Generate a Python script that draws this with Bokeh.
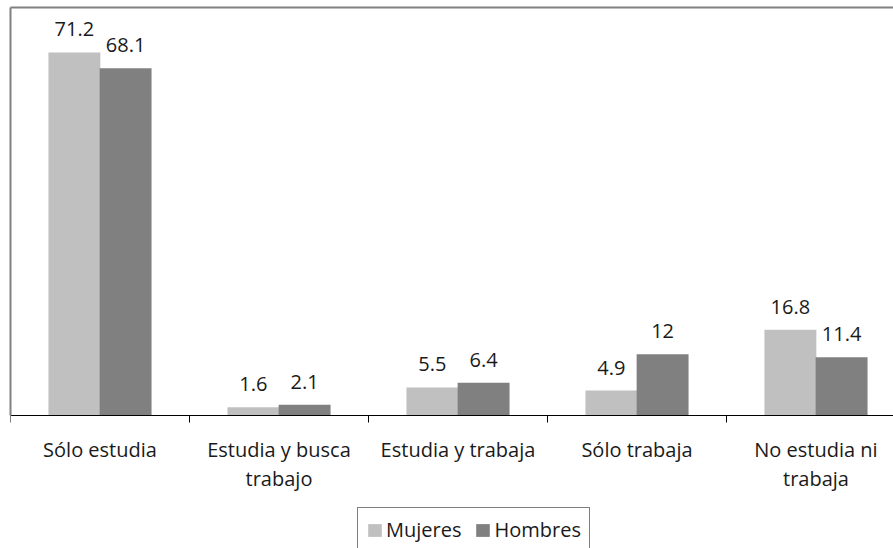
import numpy as np
from bokeh.plotting import figure
from bokeh.models import (ColumnDataSource, FixedTicker, LinearAxis, Legend,
                          LegendItem, Range1d)
from bokeh.transform import dodge
from bokeh.core.properties import value
from bokeh.embed import file_html
from bokeh.resources import INLINE

# Activity of young people by sex (%)
categories = ["Sólo estudia", "Estudia y busca\ntrabajo", "Estudia y trabaja",
              "Sólo trabaja", "No estudia ni\ntrabaja"]
mujeres = [71.2, 1.6, 5.5, 4.9, 16.8]
hombres = [68.1, 2.1, 6.4, 12, 11.4]
series_names = ["Mujeres", "Hombres"]

FONT = "Open Sans"
TEXT = "#1a1a1a"
C_MUJ = "#c0c0c0"
C_HOM = "#808080"

centers = [i + 0.5 for i in range(len(categories))]
bounds = [float(i) for i in range(len(categories))]

src = ColumnDataSource(dict(
    x=centers,
    muj=mujeres,
    hom=hombres,
    muj_lbl=[f"{v:g}" for v in mujeres],
    hom_lbl=[f"{v:g}" for v in hombres],
))

W, H = 893, 548
Y_TOP = 80
# the frame reaches the bottom of the page so the legend below the
# category labels is not clipped; the value axis starts at 0
y_bottom = -Y_TOP * 133 / 408
p = figure(width=W, height=H, output_backend="svg", toolbar_location=None,
           x_range=Range1d(0, 883 / 179), y_range=Range1d(y_bottom, Y_TOP),
           min_border_left=10, min_border_right=0, min_border_top=7,
           min_border_bottom=0, outline_line_color=None,
           background_fill_color="white", border_fill_color="white")
p.grid.visible = False

bw = 0.29
off = 0.143
r_m = p.vbar(x=dodge("x", -off, range=p.x_range), top="muj", width=bw,
             source=src, fill_color=C_MUJ, line_color=None)
r_h = p.vbar(x=dodge("x", off, range=p.x_range), top="hom", width=bw,
             source=src, fill_color=C_HOM, line_color=None)

for col, lbl, o in (("muj", "muj_lbl", -off), ("hom", "hom_lbl", off)):
    p.text(x=dodge("x", o, range=p.x_range), y=col, text=lbl, source=src,
           text_align="center", text_baseline="alphabetic", y_offset=-23,
           text_font=value(FONT), text_font_size="20px", text_color=TEXT)

# category axis at zero: labels at the centres, ticks at the boundaries
xa = p.xaxis[0]
xa.fixed_location = 0
xa.ticker = FixedTicker(ticks=centers, minor_ticks=bounds)
xa.major_label_overrides = {c: n for c, n in zip(centers, categories)}
xa.major_tick_out = 0
xa.major_tick_in = 0
xa.minor_tick_out = 7
xa.minor_tick_in = 0
xa.minor_tick_line_color = "black"
xa.axis_line_color = "black"
xa.major_label_standoff = 13
xa.major_label_text_font = FONT
xa.major_label_text_font_size = "20px"
xa.major_label_text_color = TEXT
xa.major_label_text_line_height = 1.1

# plain left and top border lines, no ticks or labels
ya = p.yaxis[0]
ya.bounds = (0, Y_TOP)
ya.ticker = FixedTicker(ticks=[], minor_ticks=[])
ya.major_tick_out = 0
ya.major_label_standoff = 0
ya.axis_line_color = "#808080"
ya.axis_line_width = 2
top = LinearAxis(ticker=FixedTicker(ticks=[], minor_ticks=[]),
                 major_tick_out=0, major_label_standoff=0,
                 axis_line_color="#808080", axis_line_width=2)
p.add_layout(top, "above")

legend = Legend(items=[LegendItem(label=series_names[0], renderers=[r_m]),
                       LegendItem(label=series_names[1], renderers=[r_h])],
                orientation="horizontal", location=(347, -4),
                padding=8, margin=0, spacing=13, label_standoff=3,
                glyph_width=17, glyph_height=16, label_height=22,
                label_text_font=FONT, label_text_font_size="20px",
                label_text_color=TEXT, border_line_color="black",
                border_line_width=1, background_fill_alpha=1)
p.add_layout(legend, "center")

open("out.html", "w").write(file_html(p, INLINE))
